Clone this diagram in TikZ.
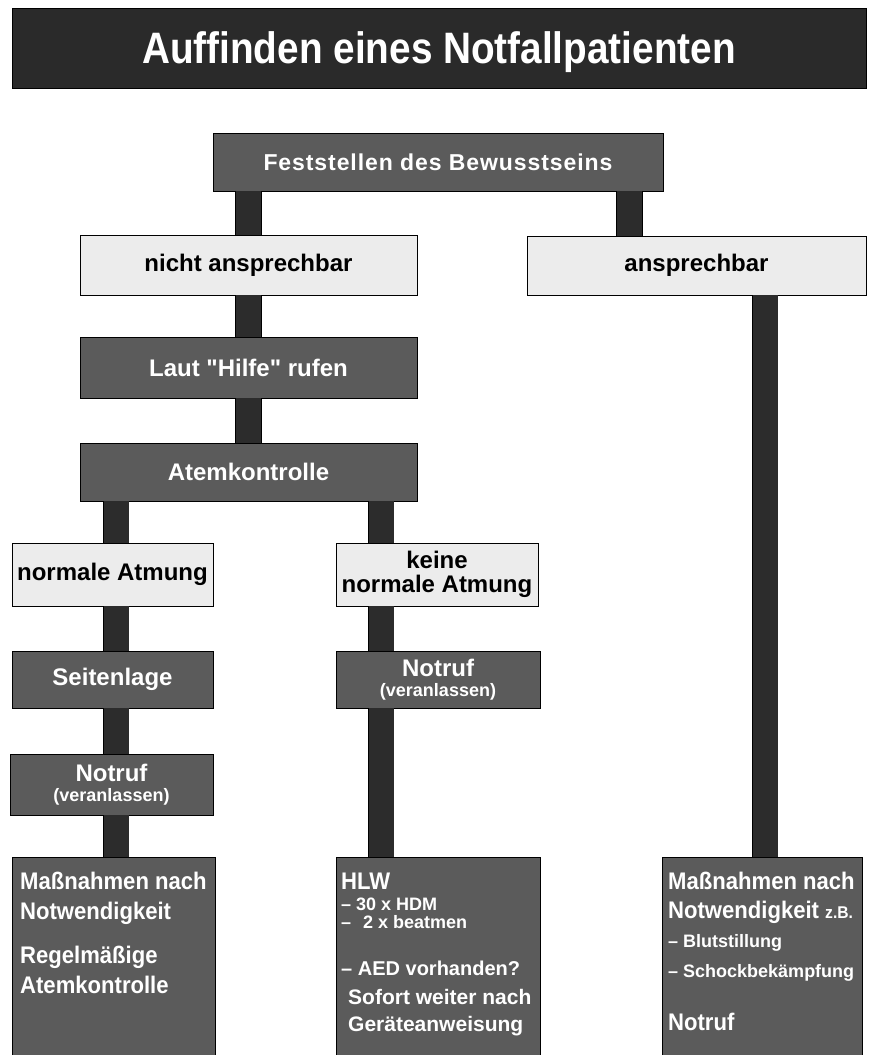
\documentclass[tikz,border=0pt]{standalone}
\usepackage{fontspec}
\setmainfont{Liberation Sans}
\newfontfamily\titlefont[FakeStretch=0.88]{Liberation Sans Bold}
\newfontfamily\nb[FakeStretch=0.92]{Liberation Sans}
\newfontfamily\nbw{Liberation Sans}
\newfontfamily\nbs[LetterSpace=4]{Liberation Sans}
\newcommand\fsz[1]{\fontsize{#1}{#1}\selectfont}
\definecolor{titlegray}{HTML}{2A2A2A}
\definecolor{boxgray}{HTML}{5B5B5B}
\definecolor{lightbox}{HTML}{ECECEC}
\definecolor{bargray}{HTML}{2C2C2C}
\begin{document}
\begin{tikzpicture}[x=1pt,y=-1pt,
  box/.style={draw=black, line width=0.8pt, inner sep=0pt, align=center, font=\nbw\bfseries\fsz{24}},
  dark/.style={box, fill=boxgray, text=white},
  light/.style={box, fill=lightbox, text=black},
  titlebox/.style={draw=black, line width=0.8pt, fill=titlegray, text=white, inner sep=0pt, font=\titlefont\fsz{44}, text height=32pt, text depth=2pt},
  bar/.style={draw=black, line width=0.7pt, double=bargray, double distance=25pt},
  txt/.style={anchor=base west, inner sep=0pt, text=white, font=\nb\bfseries\fsz{24}},
  small/.style={txt, font=\nbw\bfseries\fsz{18}},
  mid/.style={txt, font=\nbw\bfseries\fsz{20}}]
\useasboundingbox (0,0) rectangle (869,1055);
\fill[white] (0,0) rectangle (869,1055);

% column coordinates for the bars
\coordinate (cA) at (248.5,0);
\coordinate (cB) at (629.5,0);
\coordinate (cL) at (116,0);
\coordinate (cM) at (381,0);
\coordinate (cR) at (765,0);

\node[titlebox, minimum width=854pt, minimum height=80pt] (title) at (439,48) {Auffinden eines Notfallpatienten};

\node[dark, minimum width=450pt, minimum height=58pt] (fest) at (438,162) {\nbs\bfseries\fsz{23}Feststellen des Bewusstseins};
\node[light, minimum width=337pt, minimum height=60pt] (nicht) at (248.5,265) {nicht ansprechbar};
\node[light, minimum width=339pt, minimum height=59pt] (anspr) at (696.5,265.5) {ansprechbar};
\node[dark, minimum width=337pt, minimum height=61pt] (laut) at (248.5,367.5) {Laut "Hilfe" rufen};
\node[dark, minimum width=337pt, minimum height=58pt] (atem) at (248.5,472) {Atemkontrolle};
\node[light, minimum width=201pt, minimum height=63pt] (normal) at (112.5,574.5) {normale Atmung};
\node[light, minimum width=202pt, minimum height=63pt] (keine) at (437,574.5) {keine\\normale Atmung};
\node[dark, minimum width=201pt, minimum height=57pt] (seiten) at (112.5,679.5) {Seitenlage};
\node[dark, minimum width=204pt, minimum height=57pt] (notrufM) at (438,679.5) {Notruf\\[-4pt]{\fsz{18}(veranlassen)}};
\node[dark, minimum width=203pt, minimum height=61pt] (notrufL) at (111.5,784.5) {Notruf\\[-4pt]{\fsz{18}(veranlassen)}};

\node[dark, anchor=north west, minimum width=203pt, minimum height=205pt] (bl) at (12,857) {};
\node[dark, anchor=north west, minimum width=204pt, minimum height=205pt] (bm) at (336,857) {};
\node[dark, anchor=north west, minimum width=200pt, minimum height=205pt] (br) at (662,857) {};

% bars
\draw[bar] (fest.south -| cA) -- (nicht.north -| cA);
\draw[bar] (fest.south -| cB) -- (anspr.north -| cB);
\draw[bar] (nicht.south -| cA) -- (laut.north -| cA);
\draw[bar] (laut.south -| cA) -- (atem.north -| cA);
\draw[bar] (atem.south -| cL) -- (normal.north -| cL);
\draw[bar] (atem.south -| cM) -- (keine.north -| cM);
\draw[bar] (normal.south -| cL) -- (seiten.north -| cL);
\draw[bar] (seiten.south -| cL) -- (notrufL.north -| cL);
\draw[bar] (notrufL.south -| cL) -- (bl.north -| cL);
\draw[bar] (keine.south -| cM) -- (notrufM.north -| cM);
\draw[bar] (notrufM.south -| cM) -- (bm.north -| cM);
\draw[bar] (anspr.south -| cR) -- (br.north -| cR);

% texts of the bottom boxes
\node[txt] (bl1) at (20,889) {Maßnahmen nach};
\node[txt] (bl2) at (20,919) {Notwendigkeit};
\node[txt] (bl3) at (20,963) {Regelmäßige};
\node[txt] (bl4) at (20,993) {Atemkontrolle};

\node[txt] (bm1) at (341,889) {HLW};
\node[small] (bm2) at (341,910) {– 30 x HDM};
\node[small] (bm3) at (341,928) {–\hspace{12pt}2 x beatmen};
\node[mid] (bm4) at (341,975) {– AED vorhanden?};
\node[mid, font=\nbw\bfseries\fsz{21}] (bm5) at (348,1004) {Sofort weiter nach};
\node[mid, font=\nbw\bfseries\fsz{21}] (bm6) at (348,1031) {Geräteanweisung};

\node[txt] (br1) at (668,889) {Maßnahmen nach};
\node[txt] (br2) at (668,918) {Notwendigkeit {\fsz{17}z.B.}};
\node[small] (br3) at (668,947) {– Blutstillung};
\node[small] (br4) at (668,977) {– Schockbekämpfung};
\node[txt] (br5) at (668,1030) {Notruf};
\end{tikzpicture}
\end{document}
